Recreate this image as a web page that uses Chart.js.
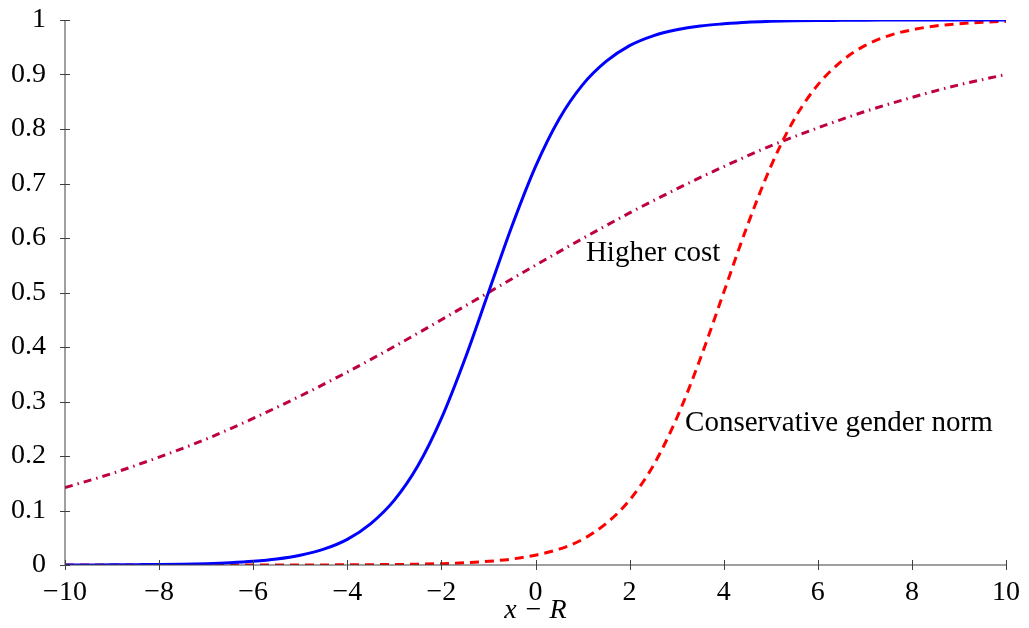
<!DOCTYPE html>
<html>
<head>
<meta charset="utf-8">
<script src="https://cdn.jsdelivr.net/npm/chart.js@4.4.1/dist/chart.umd.min.js"></script>
<style>
  html, body { margin: 0; padding: 0; background: #fff; }
  #wrap { width: 1029px; height: 628px; }
</style>
</head>
<body>
<div id="wrap"><canvas id="chart"></canvas></div>
<script>
// x - R の値（0.5刻み）
const xValues = [
  -10, -9.5, -9, -8.5, -8, -7.5, -7, -6.5, -6, -5.5, -5, -4.5, -4, -3.5, -3, -2.5, -2, -1.5, -1, -0.5,
  0, 0.5, 1, 1.5, 2, 2.5, 3, 3.5, 4, 4.5, 5, 5.5, 6, 6.5, 7, 7.5, 8, 8.5, 9, 9.5, 10
];

// 基準の曲線（青・実線）
const baseline = [
  0.0001, 0.0002, 0.0003, 0.0006, 0.0009, 0.0015, 0.0025, 0.0041, 0.0067, 0.011, 0.018, 0.029, 0.047, 0.076, 0.119, 0.182, 0.269, 0.378, 0.5, 0.622,
  0.731, 0.818, 0.881, 0.924, 0.953, 0.971, 0.982, 0.989, 0.993, 0.996, 0.9975, 0.9985, 0.9991, 0.9994, 0.9997, 0.9998, 0.9999, 0.9999, 1, 1, 1
];

// Conservative gender norm（赤・破線）
const conservative = [
  0, 0, 0, 0, 0, 0, 0, 0, 0, 0.0001, 0.0001, 0.0002, 0.0003, 0.0006, 0.0009, 0.0015, 0.0025, 0.0041, 0.0067, 0.011,
  0.018, 0.029, 0.047, 0.076, 0.119, 0.182, 0.269, 0.378, 0.5, 0.622, 0.731, 0.818, 0.881, 0.924, 0.953, 0.971, 0.982, 0.989, 0.993, 0.996, 0.9975
];

// Higher cost（紫・一点鎖線）は1刻み
const xCost = [-10, -9, -8, -7, -6, -5, -4, -3, -2, -1, 0, 1, 2, 3, 4, 5, 6, 7, 8, 9, 10];
const higherCost = [
  0.142, 0.168, 0.198, 0.231, 0.269, 0.310, 0.354, 0.401, 0.450, 0.5,
  0.550, 0.599, 0.646, 0.690, 0.731, 0.769, 0.802, 0.832, 0.858, 0.881, 0.900
];

// 曲線に付けるラベル（データ座標）
const curveLabels = [
  { text: "Higher cost", x: 2.5, y: 0.572, align: "center" },
  { text: "Conservative gender norm", x: 3.18, y: 0.26, align: "left" }
];

const SERIF = "'Liberation Serif', 'DejaVu Serif', serif";
const AXIS_COLOR = "#404040";

const toPoints = (xs, ys) => xs.map((x, i) => ({ x: x, y: ys[i] }));
const fmtNum = (v) => {
  const s = String(Math.round(v * 10) / 10);
  return s.replace("-", "\u2212");
};

// ラベルのはみ出し分の自動余白を消して、layout.padding だけで位置を決める
const noAutoPadding = (scale) => {
  scale.paddingTop = 0;
  scale.paddingBottom = 0;
  scale.paddingLeft = 0;
  scale.paddingRight = 0;
};

// 軸線と目盛り（軸をまたぐ短い線）を描く
const axesPlugin = {
  id: "axes",
  afterDatasetsDraw(chart) {
    const { ctx, chartArea, scales } = chart;
    const { left, right, top, bottom } = chartArea;
    ctx.save();
    ctx.strokeStyle = AXIS_COLOR;
    ctx.lineWidth = 1;
    ctx.beginPath();
    ctx.moveTo(left, top);
    ctx.lineTo(left, bottom);
    ctx.lineTo(right, bottom);
    scales.y.ticks.forEach(t => {
      const py = Math.round(scales.y.getPixelForValue(t.value)) + 0.5;
      ctx.moveTo(left - 5, py);
      ctx.lineTo(left + 5, py);
    });
    scales.x.ticks.forEach(t => {
      const px = Math.round(scales.x.getPixelForValue(t.value)) + 0.5;
      ctx.moveTo(px, bottom - 5);
      ctx.lineTo(px, bottom + 5);
    });
    ctx.stroke();

    // 曲線ラベル
    ctx.fillStyle = "#000";
    ctx.font = "29px " + SERIF;
    ctx.textBaseline = "middle";
    curveLabels.forEach(l => {
      ctx.textAlign = l.align;
      ctx.fillText(l.text, scales.x.getPixelForValue(l.x), scales.y.getPixelForValue(l.y));
    });
    ctx.restore();
  }
};

const ctx = document.getElementById("chart").getContext("2d");
new Chart(ctx, {
  type: "line",
  data: {
    datasets: [
      {
        data: toPoints(xValues, baseline),
        borderColor: "#0000ff",
        borderWidth: 3,
        pointRadius: 0,
        cubicInterpolationMode: "monotone",
        order: 1
      },
      {
        data: toPoints(xValues, conservative),
        borderColor: "#ff0000",
        borderWidth: 3,
        borderDash: [9, 6],
        pointRadius: 0,
        cubicInterpolationMode: "monotone",
        order: 2
      },
      {
        data: toPoints(xCost, higherCost),
        borderColor: "#bf0040",
        borderWidth: 3,
        borderDash: [8, 5, 1.5, 5],
        pointRadius: 0,
        cubicInterpolationMode: "monotone",
        order: 3
      }
    ]
  },
  options: {
    responsive: true,
    maintainAspectRatio: false,
    animation: false,
    layout: { padding: { top: 20, right: 23, left: 0, bottom: 0 } },
    plugins: {
      legend: { display: false },
      tooltip: { enabled: false }
    },
    scales: {
      x: {
        type: "linear",
        min: -10,
        max: 10,
        grid: { display: false },
        border: { display: false },
        ticks: {
          stepSize: 2,
          padding: 3,
          color: "#000",
          font: { family: SERIF, size: 28 },
          maxRotation: 0,
          callback: (v) => fmtNum(v)
        },
        title: {
          display: true,
          text: "x \u2212 R",
          color: "#000",
          font: { family: SERIF, size: 28, style: "italic" },
          padding: { top: 0, bottom: 1 }
        },
        afterFit: (scale) => { scale.height = 63; noAutoPadding(scale); }
      },
      y: {
        min: 0,
        max: 1,
        grid: { display: false },
        border: { display: false },
        ticks: {
          stepSize: 0.1,
          padding: 11,
          color: "#000",
          font: { family: SERIF, size: 28 },
          callback: (v) => fmtNum(v)
        },
        afterFit: (scale) => { scale.width = 65; noAutoPadding(scale); }
      }
    }
  },
  plugins: [axesPlugin]
});
</script>
</body>
</html>
